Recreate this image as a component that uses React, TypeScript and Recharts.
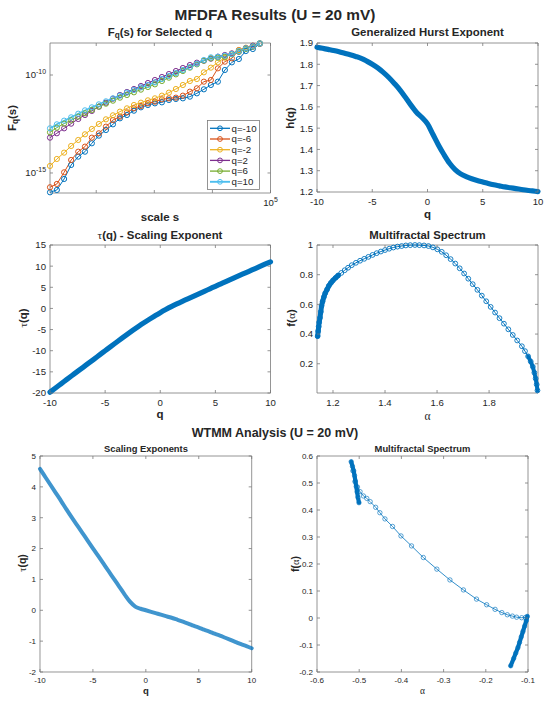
import React from 'react';
import { LineChart, Line, XAxis, YAxis, ReferenceArea } from 'recharts';

const FONT = "'Liberation Sans', Arial, Helvetica, sans-serif";
const SERIF = "'Liberation Serif', 'DejaVu Serif', serif";
const INK = '#262626';
const FRAME = '#7a7a7a';
const TL = 3;

const BLUE = '#0072BD';
const ORANGE = '#D95319';
const YELLOW = '#EDB120';
const PURPLE = '#7E2F8E';
const GREEN = '#77AC30';
const CYAN = '#4DBEEE';

// MFDFA: F_q(s) for selected q
const scales = [16, 21, 28, 37, 49, 64, 84, 111, 147, 194, 256, 338, 446, 588, 776, 1024, 1351, 1783, 2353, 3104, 4096, 5405, 7132, 9410, 12417, 16384, 21619, 28526, 37641, 49667, 65536];
const fqM10 = [1.03e-16, 1.36e-16, 4.94e-16, 2.56e-15, 6.81e-15, 1.22e-14, 3.27e-14, 8.03e-14, 1.56e-13, 3.04e-13, 6.15e-13, 9.1e-13, 1.51e-12, 2.24e-12, 2.94e-12, 3.58e-12, 4.03e-12, 5.3e-12, 5.97e-12, 6.45e-12, 7.85e-12, 1.16e-11, 1.86e-11, 3.09e-11, 4.57e-11, 1.8e-10, 4.43e-10, 6.55e-10, 1.67e-9, 2.12e-9, 3.9e-9];
const fqM6 = [1.86e-16, 2.75e-16, 1.08e-15, 4.6e-15, 1.22e-14, 2.21e-14, 6.35e-14, 1.06e-13, 2.31e-13, 5.06e-13, 7.48e-13, 1.24e-12, 1.99e-12, 2.62e-12, 3.58e-12, 4.36e-12, 5.74e-12, 6.45e-12, 6.98e-12, 8.83e-12, 1.41e-11, 2.09e-11, 4.57e-11, 5.56e-11, 2.19e-10, 4.79e-10, 7.08e-10, 1.89e-9, 2.3e-9, 2.79e-9, 3.95e-9];
const fqM2 = [2.28e-15, 5.18e-15, 1.09e-14, 2.39e-14, 4.83e-14, 9.4e-14, 1.76e-13, 3.16e-13, 5.47e-13, 8.75e-13, 1.35e-12, 1.99e-12, 2.94e-12, 3.87e-12, 5.09e-12, 6.45e-12, 8.83e-12, 1.26e-11, 1.93e-11, 3.09e-11, 4.94e-11, 6.25e-11, 1.37e-10, 2.37e-10, 4.43e-10, 7.66e-10, 1.22e-9, 1.82e-9, 2.48e-9, 3.14e-9, 4.1e-9];
const fqP2 = [6.35e-14, 1.06e-13, 1.9e-13, 3.29e-13, 5.69e-13, 9.1e-13, 1.46e-12, 2.42e-12, 3.87e-12, 6.21e-12, 9.55e-12, 1.36e-11, 1.93e-11, 2.75e-11, 3.91e-11, 5.56e-11, 7.91e-11, 1.12e-10, 1.6e-10, 2.28e-10, 3.24e-10, 4.25e-10, 5.38e-10, 6.81e-10, 8.61e-10, 1.05e-9, 1.27e-9, 1.55e-9, 2.3e-9, 3.14e-9, 4.1e-9];
const fqP6 = [1.19e-13, 2.06e-13, 3.29e-13, 4.86e-13, 7.48e-13, 1.11e-12, 1.64e-12, 2.42e-12, 3.44e-12, 4.9e-12, 6.98e-12, 9.55e-12, 1.31e-11, 1.79e-11, 2.44e-11, 3.34e-11, 4.94e-11, 7.31e-11, 1.08e-10, 1.6e-10, 2.37e-10, 3.5e-10, 5.38e-10, 7.08e-10, 7.66e-10, 8.61e-10, 1.13e-9, 1.55e-9, 2.12e-9, 2.79e-9, 4.1e-9];
const fqP10 = [1.9e-13, 3.04e-13, 4.68e-13, 6.92e-13, 1.06e-12, 1.57e-12, 2.24e-12, 3.18e-12, 4.53e-12, 6.45e-12, 8.83e-12, 1.26e-11, 1.72e-11, 2.35e-11, 3.09e-11, 4.23e-11, 6.25e-11, 8.89e-11, 1.26e-10, 1.8e-10, 2.56e-10, 3.78e-10, 5.82e-10, 7.96e-10, 8.61e-10, 9.68e-10, 1.18e-9, 1.67e-9, 2.3e-9, 2.9e-9, 4.1e-9];
const qLabels = ['q=-10', 'q=-6', 'q=-2', 'q=2', 'q=6', 'q=10'];

// MFDFA: h(q) and tau(q)
const qGrid = [-10, -9.5, -9, -8.5, -8, -7.5, -7, -6.5, -6, -5.5, -5, -4.5, -4, -3.5, -3, -2.5, -2, -1.5, -1, -0.5, 0, 0.5, 1, 1.5, 2, 2.5, 3, 3.5, 4, 4.5, 5, 5.5, 6, 6.5, 7, 7.5, 8, 8.5, 9, 9.5, 10];
const hq = [1.88, 1.875, 1.87, 1.865, 1.859, 1.852, 1.845, 1.837, 1.828, 1.815, 1.8, 1.783, 1.762, 1.738, 1.71, 1.68, 1.645, 1.608, 1.575, 1.55, 1.52, 1.47, 1.42, 1.375, 1.335, 1.305, 1.285, 1.272, 1.262, 1.254, 1.247, 1.24, 1.234, 1.229, 1.224, 1.22, 1.216, 1.212, 1.208, 1.205, 1.202];
const tauq = [-19.8, -18.81, -17.83, -16.85, -15.87, -14.89, -13.92, -12.94, -11.97, -10.98, -10.0, -9.02, -8.05, -7.08, -6.13, -5.2, -4.29, -3.41, -2.58, -1.78, -1.0, -0.27, 0.42, 1.06, 1.67, 2.26, 2.86, 3.45, 4.05, 4.64, 5.24, 5.82, 6.4, 6.99, 7.57, 8.15, 8.73, 9.3, 9.87, 10.45, 11.02];

// MFDFA: multifractal spectrum
const alphaM = [1.141, 1.143, 1.145, 1.147, 1.15, 1.153, 1.156, 1.16, 1.165, 1.17, 1.177, 1.184, 1.192, 1.2, 1.21, 1.22, 1.232, 1.245, 1.258, 1.272, 1.288, 1.304, 1.32, 1.336, 1.352, 1.368, 1.384, 1.4, 1.416, 1.432, 1.448, 1.464, 1.48, 1.497, 1.515, 1.532, 1.55, 1.567, 1.584, 1.601, 1.618, 1.635, 1.652, 1.67, 1.687, 1.704, 1.72, 1.737, 1.755, 1.772, 1.789, 1.806, 1.823, 1.84, 1.857, 1.874, 1.891, 1.908, 1.926, 1.938, 1.95, 1.96, 1.968, 1.974, 1.979, 1.983, 1.986];
const fAlphaM = [0.386, 0.42, 0.45, 0.48, 0.51, 0.55, 0.59, 0.62, 0.65, 0.675, 0.7, 0.725, 0.745, 0.762, 0.779, 0.795, 0.812, 0.83, 0.847, 0.864, 0.88, 0.894, 0.907, 0.92, 0.933, 0.945, 0.956, 0.966, 0.975, 0.983, 0.989, 0.993, 0.997, 0.999, 1.0, 0.999, 0.997, 0.993, 0.984, 0.971, 0.954, 0.931, 0.905, 0.875, 0.843, 0.808, 0.773, 0.736, 0.698, 0.659, 0.621, 0.583, 0.545, 0.507, 0.47, 0.432, 0.394, 0.357, 0.318, 0.285, 0.25, 0.215, 0.18, 0.14, 0.1, 0.06, 0.02];

// WTMM: tau(q) and spectrum
const tauW = [4.58, 4.32, 4.06, 3.8, 3.54, 3.27, 3.01, 2.76, 2.51, 2.26, 2.01, 1.76, 1.51, 1.26, 1.01, 0.76, 0.51, 0.28, 0.12, 0.05, 0.0, -0.05, -0.1, -0.15, -0.2, -0.25, -0.31, -0.37, -0.43, -0.5, -0.56, -0.63, -0.69, -0.76, -0.82, -0.89, -0.96, -1.03, -1.1, -1.16, -1.23];
const alphaW = [-0.5005, -0.503, -0.505, -0.507, -0.509, -0.511, -0.513, -0.516, -0.519, -0.515, -0.51, -0.504, -0.498, -0.49, -0.482, -0.474, -0.461, -0.451, -0.439, -0.421, -0.401, -0.376, -0.348, -0.316, -0.285, -0.253, -0.222, -0.198, -0.178, -0.162, -0.149, -0.137, -0.127, -0.115, -0.106, -0.1016, -0.104, -0.108, -0.112, -0.116, -0.12, -0.124, -0.129, -0.134, -0.141];
const fAlphaW = [0.427, 0.447, 0.467, 0.487, 0.507, 0.527, 0.545, 0.562, 0.579, 0.545, 0.505, 0.485, 0.468, 0.452, 0.443, 0.431, 0.41, 0.39, 0.367, 0.339, 0.304, 0.267, 0.224, 0.181, 0.141, 0.104, 0.07, 0.049, 0.032, 0.02, 0.012, 0.007, 0.003, 0.001, 0.002, 0.006, -0.01, -0.03, -0.05, -0.07, -0.09, -0.11, -0.13, -0.15, -0.177];

const fqRows = scales.map((s, i) => ({ s, m10: fqM10[i], m6: fqM6[i], m2: fqM2[i], p2: fqP2[i], p6: fqP6[i], p10: fqP10[i] }));
const qRows = qGrid.map((q, i) => ({ q, h: hq[i], t: tauq[i], w: tauW[i] }));
const specM = alphaM.map((a, i) => ({ a, f: fAlphaM[i] }));
const specW = alphaW.map((a, i) => ({ a, f: fAlphaW[i] }));

const fqSeries = [
  { key: 'm10', color: BLUE, w: 1 },
  { key: 'm6', color: ORANGE, w: 1 },
  { key: 'm2', color: YELLOW, w: 1 },
  { key: 'p2', color: PURPLE, w: 1 },
  { key: 'p6', color: GREEN, w: 1 },
  { key: 'p10', color: CYAN, w: 1.6 },
];

type Box = { x0: number; y0: number; x1: number; y1: number };
const PL = 50, PT = 8, PR = 8, PB = 24;

const B1: Box = { x0: 50, y0: 43, x1: 270.5, y1: 193 };
const B2: Box = { x0: 317, y0: 43, x1: 538, y1: 192 };
const B3: Box = { x0: 50, y0: 244.5, x1: 270.5, y1: 392.5 };
const B4: Box = { x0: 317, y0: 244.5, x1: 538, y1: 392.5 };
const B5: Box = { x0: 40, y0: 456, x1: 251.7, y1: 672 };
const B6: Box = { x0: 317, y0: 456, x1: 528, y1: 672 };

const pow10 = (e: string, fs: number) => (
  <>
    <tspan>10</tspan>
    <tspan dy={-fs * 0.45} fontSize={fs * 0.72}>{e}</tspan>
  </>
);

function xTick(b: Box, fs: number, gap: number, fmt: (v: number) => React.ReactNode) {
  const h = b.y1 - b.y0;
  return (p: any) => (
    <g>
      <line x1={p.x} y1={p.y} x2={p.x} y2={p.y - TL} stroke={FRAME} strokeWidth={0.8} />
      <line x1={p.x} y1={p.y - h} x2={p.x} y2={p.y - h + TL} stroke={FRAME} strokeWidth={0.8} />
      <text x={p.x} y={p.y + gap} textAnchor="middle" fontSize={fs} fill={INK} fontFamily={FONT}>
        {fmt(p.payload.value)}
      </text>
    </g>
  );
}

function yTick(b: Box, fs: number, fmt: (v: number) => React.ReactNode) {
  const w = b.x1 - b.x0;
  return (p: any) => (
    <g>
      <line x1={p.x} y1={p.y} x2={p.x + TL} y2={p.y} stroke={FRAME} strokeWidth={0.8} />
      <line x1={p.x + w} y1={p.y} x2={p.x + w - TL} y2={p.y} stroke={FRAME} strokeWidth={0.8} />
      <text x={p.x - 4} y={p.y} dy="0.35em" textAnchor="end" fontSize={fs} fill={INK} fontFamily={FONT}>
        {fmt(p.payload.value)}
      </text>
    </g>
  );
}

const Panel: React.FC<{ b: Box; data: any[]; children: React.ReactNode }> = ({ b, data, children }) => (
  <div style={{ position: 'absolute', left: b.x0 - PL, top: b.y0 - PT }}>
    <LineChart
      width={b.x1 - b.x0 + PL + PR}
      height={b.y1 - b.y0 + PT + PB}
      data={data}
      margin={{ top: PT, right: PR, bottom: 0, left: 0 }}
    >
      {children}
    </LineChart>
  </div>
);

const Txt: React.FC<{ x: number; y: number; fs: number; bold?: boolean; rot?: boolean; children: React.ReactNode }> = ({ x, y, fs, bold = true, rot, children }) => (
  <div
    style={{
      position: 'absolute',
      left: x,
      top: y,
      transform: `translate(-50%, -50%)${rot ? ' rotate(-90deg)' : ''}`,
      fontSize: fs,
      fontWeight: bold ? 700 : 400,
      whiteSpace: 'nowrap',
      lineHeight: 1,
      color: INK,
    }}
  >
    {children}
  </div>
);

const Tau = () => <span style={{ fontFamily: SERIF, fontWeight: 400 }}>τ</span>;
const Alpha = () => <span style={{ fontFamily: SERIF, fontWeight: 400 }}>α</span>;
const Sub: React.FC<{ children: React.ReactNode }> = ({ children }) => (
  <span style={{ fontSize: '0.72em', position: 'relative', top: '0.3em' }}>{children}</span>
);

const fx1 = (v: number) => v.toFixed(1);
const fint = (v: number) => String(v);
const fzero1 = (v: number) => (Math.abs(v) < 1e-9 ? '0' : v.toFixed(1));
const fOne = (v: number) => (v === 1 ? '1' : v.toFixed(1));

const axisCommon = { tickSize: 0, tickMargin: 0, axisLine: false, tickLine: false, interval: 0 as const };

const frameArea = (x: [number, number], y: [number, number]) => (
  <ReferenceArea x1={x[0]} x2={x[1]} y1={y[0]} y2={y[1]} fill="none" stroke={FRAME} strokeWidth={0.8} ifOverflow="visible" />
);

export default function App() {
  const d1x: [number, number] = [16, 100000];
  const d1y: [number, number] = [9.5e-17, 4.3e-9];
  const d4x: [number, number] = [1.1385, 1.988];
  const d4y: [number, number] = [0.003, 1];

  return (
    <div style={{ position: 'relative', width: 550, height: 703, background: '#fff', fontFamily: FONT, color: INK, overflow: 'hidden' }}>
      <style>{'body{margin:0}'}</style>

      <Txt x={275} y={15} fs={15.4}>MFDFA Results (U = 20 mV)</Txt>

      {/* F_q(s) */}
      <Panel b={B1} data={fqRows}>
        {frameArea(d1x, d1y)}
        <XAxis dataKey="s" type="number" scale="log" domain={d1x} ticks={[100, 1000, 10000, 100000]} height={PB} {...axisCommon}
          tick={xTick(B1, 9.6, 13, (v) => (v === 100000 ? pow10('5', 9.6) : ''))} />
        <YAxis type="number" scale="log" domain={d1y} ticks={[1e-15, 1e-10]} width={PL} {...axisCommon}
          tick={yTick(B1, 9.6, (v) => pow10(v < 1e-12 ? '-15' : '-10', 9.6))} />
        {fqSeries.map((s) => (
          <Line key={s.key} type="linear" dataKey={s.key} stroke={s.color} strokeWidth={s.w}
            dot={{ r: 2.6, stroke: s.color, strokeWidth: 1, fill: 'none' }} isAnimationActive={false} />
        ))}
      </Panel>
      <svg style={{ position: 'absolute', left: 207, top: 120 }} width={53} height={70}>
        <rect x={0.5} y={0.5} width={52} height={69} fill="#fff" stroke={FRAME} strokeWidth={0.8} />
        {fqSeries.map((s, i) => {
          const cy = 8.3 + i * 10.7;
          return (
            <g key={s.key}>
              <line x1={3} x2={23} y1={cy} y2={cy} stroke={s.color} strokeWidth={s.w + 0.3} />
              <circle cx={13} cy={cy} r={2.4} fill="none" stroke={s.color} strokeWidth={1} />
              <text x={24.5} y={cy} dy="0.35em" fontSize={9.7} fill={INK} fontFamily={FONT}>{qLabels[i]}</text>
            </g>
          );
        })}
      </svg>
      <Txt x={160} y={33} fs={11.4}>F<Sub>q</Sub>(s) for Selected q</Txt>
      <Txt x={13} y={118} fs={11.4} rot>F<Sub>q</Sub>(s)</Txt>
      <Txt x={160} y={218} fs={11.5}>scale s</Txt>

      {/* h(q) */}
      <Panel b={B2} data={qRows}>
        {frameArea([-10, 10], [1.2, 1.9])}
        <XAxis dataKey="q" type="number" domain={[-10, 10]} ticks={[-10, -5, 0, 5, 10]} height={PB} {...axisCommon}
          tick={xTick(B2, 9.6, 13, fint)} />
        <YAxis type="number" domain={[1.2, 1.9]} ticks={[1.2, 1.3, 1.4, 1.5, 1.6, 1.7, 1.8, 1.9]} width={PL} {...axisCommon}
          tick={yTick(B2, 9.6, fx1)} />
        <Line type="monotone" dataKey="h" stroke={BLUE} strokeWidth={5.2} strokeLinecap="round" dot={false} isAnimationActive={false} />
      </Panel>
      <Txt x={427.5} y={33} fs={11.4}>Generalized Hurst Exponent</Txt>
      <Txt x={291} y={118} fs={11.4} rot>h(q)</Txt>
      <Txt x={427.5} y={215} fs={11.5}>q</Txt>

      {/* tau(q) */}
      <Panel b={B3} data={qRows}>
        {frameArea([-10, 10], [-20, 15])}
        <XAxis dataKey="q" type="number" domain={[-10, 10]} ticks={[-10, -5, 0, 5, 10]} height={PB} {...axisCommon}
          tick={xTick(B3, 9.6, 13, fint)} />
        <YAxis type="number" domain={[-20, 15]} ticks={[-20, -15, -10, -5, 0, 5, 10, 15]} width={PL} {...axisCommon}
          tick={yTick(B3, 9.6, fint)} />
        <Line type="monotone" dataKey="t" stroke={BLUE} strokeWidth={5.2} strokeLinecap="round" dot={false} isAnimationActive={false} />
      </Panel>
      <Txt x={160} y={235.5} fs={11.4}><Tau />(q) - Scaling Exponent</Txt>
      <Txt x={24} y={318} fs={11.4} rot><Tau />(q)</Txt>
      <Txt x={160} y={415} fs={11.5}>q</Txt>

      {/* f(alpha) MFDFA */}
      <Panel b={B4} data={specM}>
        {frameArea(d4x, d4y)}
        <XAxis dataKey="a" type="number" domain={d4x} ticks={[1.2, 1.4, 1.6, 1.8]} height={PB} {...axisCommon}
          tick={xTick(B4, 9.6, 13, fx1)} />
        <YAxis type="number" domain={d4y} ticks={[0.2, 0.4, 0.6, 0.8, 1]} width={PL} {...axisCommon}
          tick={yTick(B4, 9.6, fOne)} />
        <Line data={specM.slice(0, 16)} type="linear" dataKey="f" stroke={BLUE} strokeWidth={5} strokeLinecap="round" dot={false} isAnimationActive={false} />
        <Line data={specM.slice(60)} type="linear" dataKey="f" stroke={BLUE} strokeWidth={4} strokeLinecap="round" dot={false} isAnimationActive={false} />
        <Line type="linear" dataKey="f" stroke={BLUE} strokeWidth={1}
          dot={{ r: 2.4, stroke: BLUE, strokeWidth: 0.9, fill: 'none' }} isAnimationActive={false} />
      </Panel>
      <Txt x={427.5} y={235.5} fs={11.4}>Multifractal Spectrum</Txt>
      <Txt x={292} y={318} fs={11.4} rot>f(<Alpha />)</Txt>
      <Txt x={427.5} y={417} fs={11.5}><Alpha /></Txt>

      <Txt x={275} y={433} fs={12.5}>WTMM Analysis (U = 20 mV)</Txt>

      {/* tau(q) WTMM */}
      <Panel b={B5} data={qRows}>
        {frameArea([-10, 10], [-2, 5])}
        <XAxis dataKey="q" type="number" domain={[-10, 10]} ticks={[-10, -5, 0, 5, 10]} height={PB} {...axisCommon}
          tick={xTick(B5, 8, 11, fint)} />
        <YAxis type="number" domain={[-2, 5]} ticks={[-2, -1, 0, 1, 2, 3, 4, 5]} width={PL} {...axisCommon}
          tick={yTick(B5, 8, fint)} />
        <Line type="monotone" dataKey="w" stroke={BLUE} strokeOpacity={0.75} strokeWidth={4} strokeLinecap="round" dot={false} isAnimationActive={false} />
      </Panel>
      <Txt x={146} y={449} fs={9.4}>Scaling Exponents</Txt>
      <Txt x={23} y={563} fs={10.5} rot><Tau />(q)</Txt>
      <Txt x={146} y={691} fs={9.5}>q</Txt>

      {/* f(alpha) WTMM */}
      <Panel b={B6} data={specW}>
        {frameArea([-0.6, -0.1], [-0.2, 0.6])}
        <XAxis dataKey="a" type="number" domain={[-0.6, -0.1]} ticks={[-0.6, -0.5, -0.4, -0.3, -0.2, -0.1]} height={PB} {...axisCommon}
          tick={xTick(B6, 8, 11, fx1)} />
        <YAxis type="number" domain={[-0.2, 0.6]} ticks={[-0.2, -0.1, 0, 0.1, 0.2, 0.3, 0.4, 0.5, 0.6]} width={PL} {...axisCommon}
          tick={yTick(B6, 8, fzero1)} />
        <Line data={specW.slice(0, 9)} type="linear" dataKey="f" stroke={BLUE} strokeWidth={4.2} strokeLinecap="round" dot={false} isAnimationActive={false} />
        <Line data={specW.slice(35)} type="linear" dataKey="f" stroke={BLUE} strokeWidth={4.2} strokeLinecap="round" dot={false} isAnimationActive={false} />
        <Line type="linear" dataKey="f" stroke={BLUE} strokeWidth={0.8}
          dot={{ r: 2.2, stroke: BLUE, strokeOpacity: 0.8, strokeWidth: 0.8, fill: 'none' }} isAnimationActive={false} />
      </Panel>
      <Txt x={422.5} y={449} fs={9.4}>Multifractal Spectrum</Txt>
      <Txt x={296} y={564} fs={10.5} rot>f(<Alpha />)</Txt>
      <Txt x={422.5} y={691} fs={9.5}><Alpha /></Txt>
    </div>
  );
}
